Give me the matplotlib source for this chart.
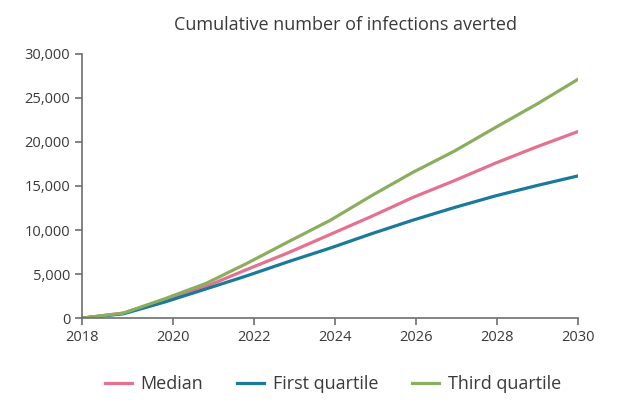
import numpy as np
import matplotlib.pyplot as plt

# Valores: 13 pontos anuais espaçados de forma regular;
# o eixo começa um trimestre antes da marca de 2020 menos dois anos
time = np.linspace(2017.75, 2030, 13)
median = [0, 570, 2100, 3600, 5550, 7450, 9500, 11550, 13700, 15600, 17600, 19450, 21190]
first_quartile = [0, 490, 1830, 3320, 4830, 6430, 7950, 9580, 11120, 12550, 13880, 15050, 16150]
third_quartile = [0, 570, 2200, 3950, 6250, 8700, 11100, 13900, 16550, 18950, 21650, 24300, 27130]
xtick_pos = [2017.75, 2020, 2022, 2024, 2026, 2028, 2030]
xtick_labels = ['2018', '2020', '2022', '2024', '2026', '2028', '2030']
ytick_pos = [0, 5000, 10000, 15000, 20000, 25000, 30000]
ytick_labels = ['0', '5,000', '10,000', '15,000', '20,000', '25,000', '30,000']

plt.rcParams['font.family'] = ['Open Sans', 'DejaVu Sans']
text_color = '#3a3a3a'
axis_color = '#6e6e6e'

fig = plt.figure(figsize=(6.32, 4.11), dpi=100)
ax = fig.add_axes([0.130, 0.226, 0.785, 0.643])

ax.plot(time, median, color='#e5708f', lw=2.3, label='Median')
ax.plot(time, first_quartile, color='#1a7a99', lw=2.3, label='First quartile')
ax.plot(time, third_quartile, color='#8aae5f', lw=2.3, label='Third quartile')

ax.set_xlim(xtick_pos[0], xtick_pos[-1])
ax.set_ylim(ytick_pos[0], ytick_pos[-1])
ax.set_xticks(xtick_pos, xtick_labels)
ax.set_yticks(ytick_pos, ytick_labels)

for side in ['top', 'right']:
  ax.spines[side].set_visible(False)
for side in ['left', 'bottom']:
  ax.spines[side].set_color(axis_color)
  ax.spines[side].set_linewidth(1.2)
ax.tick_params(colors=axis_color, labelcolor=text_color, labelsize=10.5, length=5, width=1.2)

fig.text(345 / 632, 1 - 25 / 411, 'Cumulative number of infections averted',
         ha='center', va='center', fontsize=13, color=text_color)

fig.legend(loc='center', bbox_to_anchor=(333 / 632, 1 - 384 / 411), ncol=3, frameon=False,
           fontsize=13, labelcolor=text_color, handlelength=1.5, handletextpad=0.45,
           columnspacing=1.9)

plt.savefig('out.png', dpi=100)
